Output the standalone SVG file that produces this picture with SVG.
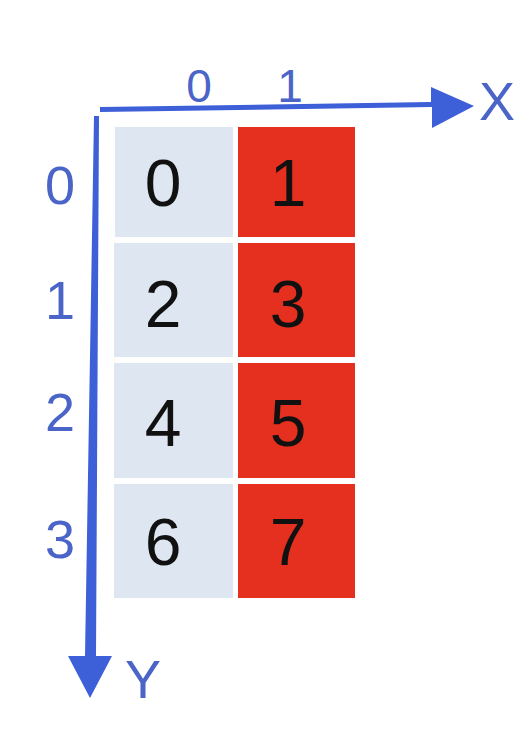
<svg xmlns="http://www.w3.org/2000/svg" width="528" height="736" viewBox="0 0 528 736">
<style>
.cell0{fill:#dde6f1}
.cell1{fill:#e6301f}
.num{font-family:"Liberation Sans",Arial,sans-serif;font-size:66px;fill:#111;text-anchor:middle}
.lbl{font-family:"Liberation Sans",Arial,sans-serif;font-size:54px;fill:#4a64c8;text-anchor:middle}
.top{font-size:46px}
.axis{fill:#3d5fd8}
</style>
<rect width="528" height="736" fill="#fff"/>
<g id="axes">
<polygon class="axis" points="100,107 100,112 432,107 432,128 474,106 431,87 431,102"/>
<polygon class="axis" points="94,116 99,116 96,656 112,656 90,698 68,656 85,656"/>
</g>
<g id="axis-labels">
<text class="lbl top" x="199" y="102">0</text>
<text class="lbl top" x="290" y="102">1</text>
<text class="lbl" x="497" y="120">X</text>
<text class="lbl" x="60" y="204">0</text>
<text class="lbl" x="60" y="319">1</text>
<text class="lbl" x="60" y="431">2</text>
<text class="lbl" x="60" y="558">3</text>
<text class="lbl" x="143" y="698">Y</text>
</g>
<g id="c0"><rect class="cell0" x="115" y="127" width="118" height="110"/><text class="num" x="163" y="206">0</text></g>
<g id="c1"><rect class="cell1" x="238" y="127" width="117" height="110"/><text class="num" x="288" y="206">1</text></g>
<g id="c2"><rect class="cell0" x="114" y="243" width="119" height="114"/><text class="num" x="163" y="327">2</text></g>
<g id="c3"><rect class="cell1" x="238" y="243" width="117" height="114"/><text class="num" x="288" y="327">3</text></g>
<g id="c4"><rect class="cell0" x="114" y="363" width="119" height="115"/><text class="num" x="163" y="446">4</text></g>
<g id="c5"><rect class="cell1" x="238" y="363" width="117" height="115"/><text class="num" x="288" y="446">5</text></g>
<g id="c6"><rect class="cell0" x="114" y="484" width="119" height="114"/><text class="num" x="163" y="565">6</text></g>
<g id="c7"><rect class="cell1" x="238" y="484" width="117" height="114"/><text class="num" x="288" y="565">7</text></g>
</svg>
